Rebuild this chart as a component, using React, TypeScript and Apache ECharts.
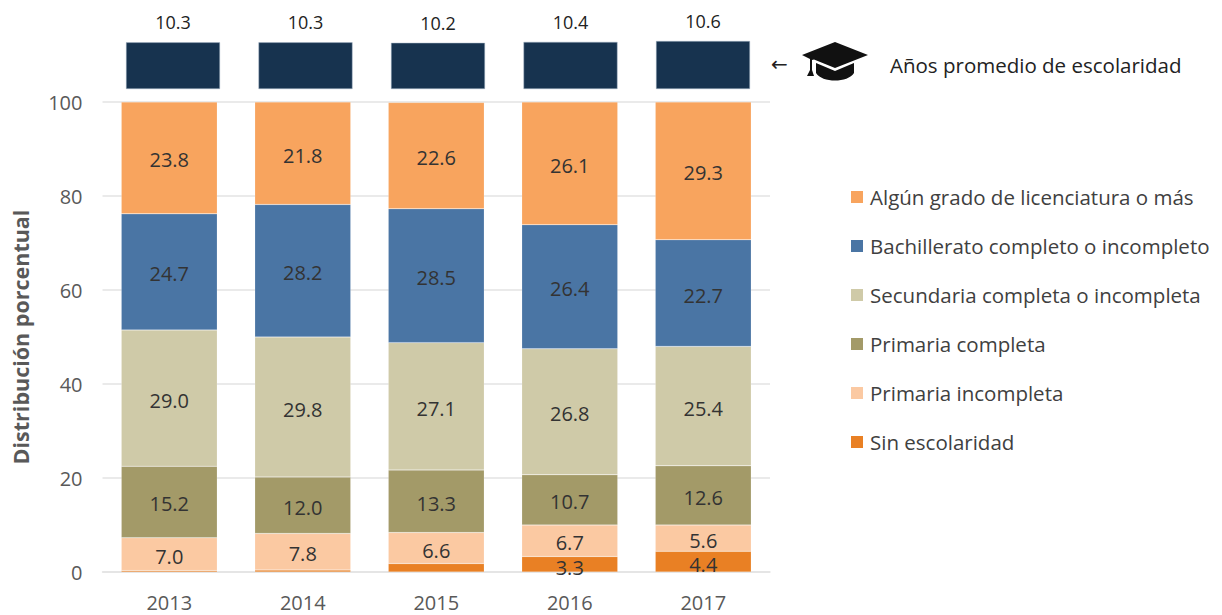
import React, { useEffect, useRef } from "react";
import * as echarts from "echarts";

const years = ["2013", "2014", "2015", "2016", "2017"];
const schooling = [10.3, 10.3, 10.2, 10.4, 10.6];
const sinEscolaridad = [0.3, 0.4, 1.8, 3.3, 4.4];
const primariaIncompleta = [7.0, 7.8, 6.6, 6.7, 5.6];
const primariaCompleta = [15.2, 12.0, 13.3, 10.7, 12.6];
const secundaria = [29.0, 29.8, 27.1, 26.8, 25.4];
const bachillerato = [24.7, 28.2, 28.5, 26.4, 22.7];
const licenciatura = [23.8, 21.8, 22.6, 26.1, 29.3];
const yTicks = [0, 20, 40, 60, 80, 100];

const FONT = "'Open Sans', sans-serif";
const HAT =
  "M33 0 L66 13 L33 26 L12 17.5 L10 18 L10 28 L12 34 L5 34 L8 28 L8 17 L0 13 Z M14 21 L33 29 L52 21 L52 31 C46 41 20 41 14 31 Z";
echarts.graphic.registerShape("gradHat", echarts.graphic.extendPath(HAT, {}) as any);

const stackDefs = [
  { name: "Sin escolaridad", data: sinEscolaridad, color: "#E98024" },
  { name: "Primaria incompleta", data: primariaIncompleta, color: "#FBC9A2" },
  { name: "Primaria completa", data: primariaCompleta, color: "#A39A68" },
  { name: "Secundaria completa o incompleta", data: secundaria, color: "#CFCAA8" },
  { name: "Bachillerato completo o incompleto", data: bachillerato, color: "#4A75A4" },
  { name: "Algún grado de licenciatura o más", data: licenciatura, color: "#F8A45E" },
];

export default function App() {
  const ref = useRef<HTMLDivElement>(null);
  useEffect(() => {
    const chart = echarts.init(ref.current!, undefined, { renderer: "svg" });
    chart.setOption({
      animation: false,
      textStyle: { fontFamily: FONT },
      grid: [
        { left: 102.5, width: 667.5, top: 102, height: 470 },
        { left: 106.75, width: 662.5, top: 41, height: 48 },
      ],
      xAxis: [
        {
          type: "category",
          data: years,
          gridIndex: 0,
          axisLine: { lineStyle: { color: "#e3e3e3", width: 1.5 } },
          axisTick: { show: false },
          axisLabel: { color: "#595959", fontSize: 20, margin: 20, fontFamily: FONT },
        },
        { type: "category", data: years, gridIndex: 1, show: false },
      ],
      yAxis: [
        {
          type: "value",
          gridIndex: 0,
          min: 0,
          max: 100,
          interval: yTicks[1] - yTicks[0],
          name: "Distribución porcentual",
          nameLocation: "middle",
          nameGap: 71,
          nameTextStyle: { color: "#595959", fontSize: 21.5, fontWeight: "bold", fontFamily: FONT },
          axisLine: { show: false },
          axisTick: { show: false },
          axisLabel: { color: "#595959", fontSize: 20, margin: 20, fontFamily: FONT },
          splitLine: { lineStyle: { color: "#e3e3e3", width: 1.5 } },
        },
        { type: "value", gridIndex: 1, show: false, min: 0, max: 10.6 },
      ],
      legend: {
        orient: "vertical",
        left: 846,
        top: 180,
        itemWidth: 12,
        itemHeight: 12,
        itemGap: 25,
        icon: "rect",
        data: stackDefs.map((s) => s.name).reverse(),
        textStyle: { color: "#404040", fontSize: 20.5, lineHeight: 24, fontFamily: FONT, padding: [0, 0, 0, 2] },
        itemStyle: { borderWidth: 0 },
      },
      series: [
        ...stackDefs.map((s, i) => ({
          name: s.name,
          type: "bar",
          stack: "total",
          barWidth: 96,
          xAxisIndex: 0,
          yAxisIndex: 0,
          itemStyle: { color: s.color, borderColor: "rgba(255,255,255,0.35)", borderWidth: 0.5 },
          label: {
            show: true,
            position: "inside",
            color: "#333333",
            fontSize: 20,
            fontFamily: FONT,
            offset: [0, i === 0 ? 3 : 2],
            formatter: (p: any) => p.value.toFixed(1),
          },
          data: s.data.map((v) => (i === 0 && v < 3 ? { value: v, label: { show: false } } : v)),
        })),
        {
          type: "bar",
          name: "Años promedio de escolaridad",
          xAxisIndex: 1,
          yAxisIndex: 1,
          barWidth: 94,
          data: schooling,
          itemStyle: { color: "#17334F", borderColor: "#A8B8C8", borderWidth: 0.5 },
          label: {
            show: true,
            position: "top",
            distance: 11,
            color: "#222222",
            fontSize: 18,
            fontFamily: FONT,
            formatter: (p: any) => p.value.toFixed(1),
          },
        },
      ],
      graphic: [
        {
          type: "text",
          left: 771,
          top: 54,
          style: { text: "←", fontSize: 20, fill: "#222222", fontFamily: "DejaVu Sans" },
        },
        { type: "gradHat", x: 802, y: 42, style: { fill: "#111111" } },
        {
          type: "text",
          left: 890,
          top: 54,
          style: {
            text: "Años promedio de escolaridad",
            fontSize: 20.5,
            fontWeight: 500,
            fill: "#222222",
            fontFamily: FONT,
          },
        },
      ],
    });
    return () => chart.dispose();
  }, []);
  return <div ref={ref} style={{ position: "absolute", left: 0, top: 0, width: 1222, height: 615 }} />;
}
